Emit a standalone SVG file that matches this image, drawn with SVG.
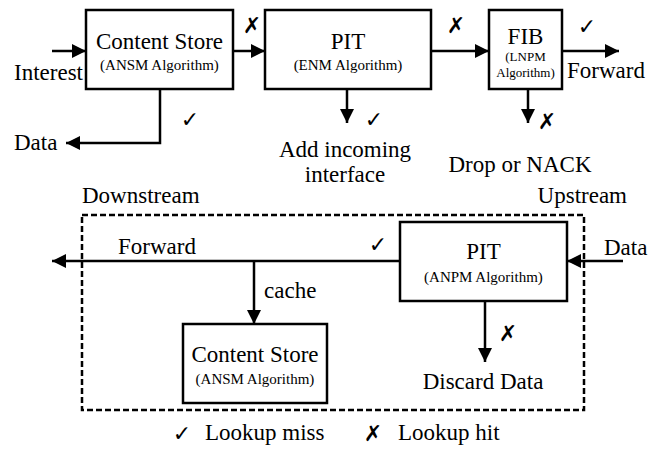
<svg xmlns="http://www.w3.org/2000/svg" width="665" height="465" viewBox="0 0 665 465">
<style>
  .box { fill: #fff; stroke: #000; stroke-width: 2.5; }
  .ln { fill: none; stroke: #000; stroke-width: 2.5; }
  .dash { fill: none; stroke: #000; stroke-width: 2.5; stroke-dasharray: 6 3; }
</style>
<defs>
  <marker id="ah" viewBox="0 0 14 14" refX="14" refY="7" markerWidth="14" markerHeight="14" markerUnits="userSpaceOnUse" orient="auto">
    <path d="M0,0 L14,7 L0,14 z" fill="#000"/>
  </marker>
</defs>

<rect class="dash" x="82" y="215" width="502" height="195"/>

<g id="connectors">
  <path class="ln" marker-end="url(#ah)" d="M52,51 H86"/>
  <path class="ln" marker-end="url(#ah)" d="M233,51 H265"/>
  <path class="ln" marker-end="url(#ah)" d="M431,51 H489"/>
  <path class="ln" marker-end="url(#ah)" d="M562,51 H619"/>
  <path class="ln" marker-end="url(#ah)" d="M160,89 V143 H66"/>
  <path class="ln" marker-end="url(#ah)" d="M347,89 V123"/>
  <path class="ln" marker-end="url(#ah)" d="M528,89 V123"/>
  <path class="ln" marker-end="url(#ah)" d="M400,261 H52"/>
  <path class="ln" marker-end="url(#ah)" d="M254,261 V324"/>
  <path class="ln" marker-end="url(#ah)" d="M623,261 H567"/>
  <path class="ln" marker-end="url(#ah)" d="M485,301 V362"/>
</g>

<g font-family="'Liberation Serif', 'Times New Roman', serif" fill="#000">
<g id="cs-top">
  <rect class="box" x="86" y="10" width="147" height="79"/>
  <text x="159.5" y="49" font-size="23" text-anchor="middle">Content Store</text>
  <text x="159.5" y="70" font-size="15" text-anchor="middle">(ANSM Algorithm)</text>
</g>
<g id="pit-top">
  <rect class="box" x="265" y="10" width="166" height="79"/>
  <text x="348" y="49" font-size="23" text-anchor="middle">PIT</text>
  <text x="348" y="70" font-size="15" text-anchor="middle">(ENM Algorithm)</text>
</g>
<g id="fib">
  <rect class="box" x="489" y="10" width="73" height="79"/>
  <text x="525.5" y="44" font-size="23" text-anchor="middle">FIB</text>
  <text x="525.5" y="61" font-size="13" text-anchor="middle">(LNPM</text>
  <text x="525.5" y="77" font-size="13" text-anchor="middle">Algorithm)</text>
</g>
<g id="cs-bottom">
  <rect class="box" x="183" y="324" width="144" height="79"/>
  <text x="255" y="362" font-size="23" text-anchor="middle">Content Store</text>
  <text x="255" y="384" font-size="15" text-anchor="middle">(ANSM Algorithm)</text>
</g>
<g id="pit-bottom">
  <rect class="box" x="400" y="222" width="167" height="79"/>
  <text x="483.5" y="259" font-size="23" text-anchor="middle">PIT</text>
  <text x="483.5" y="282" font-size="15" text-anchor="middle">(ANPM Algorithm)</text>
</g>

<g id="labels" font-size="23">
  <text x="14" y="80">Interest</text>
  <text x="14" y="150">Data</text>
  <text x="567" y="78">Forward</text>
  <text x="345" y="157" text-anchor="middle">Add incoming</text>
  <text x="345" y="182" text-anchor="middle">interface</text>
  <text x="520" y="172" text-anchor="middle">Drop or NACK</text>
  <text x="82" y="203">Downstream</text>
  <text x="627" y="203" text-anchor="end">Upstream</text>
  <text x="118" y="254">Forward</text>
  <text x="264" y="298">cache</text>
  <text x="604" y="255">Data</text>
  <text x="483" y="389" text-anchor="middle">Discard Data</text>
  <text x="205" y="440">Lookup miss</text>
  <text x="398" y="440">Lookup hit</text>
</g>
</g>

<g id="marks" font-family="'DejaVu Sans', sans-serif" font-size="22" text-anchor="middle" fill="#000">
  <text x="252" y="33">✗</text>
  <text x="456" y="33">✗</text>
  <text x="587" y="34">✓</text>
  <text x="190" y="127">✓</text>
  <text x="374" y="127">✓</text>
  <text x="547" y="129">✗</text>
  <text x="378" y="252">✓</text>
  <text x="508" y="341">✗</text>
  <text x="182" y="441">✓</text>
  <text x="373" y="441">✗</text>
</g>
</svg>
